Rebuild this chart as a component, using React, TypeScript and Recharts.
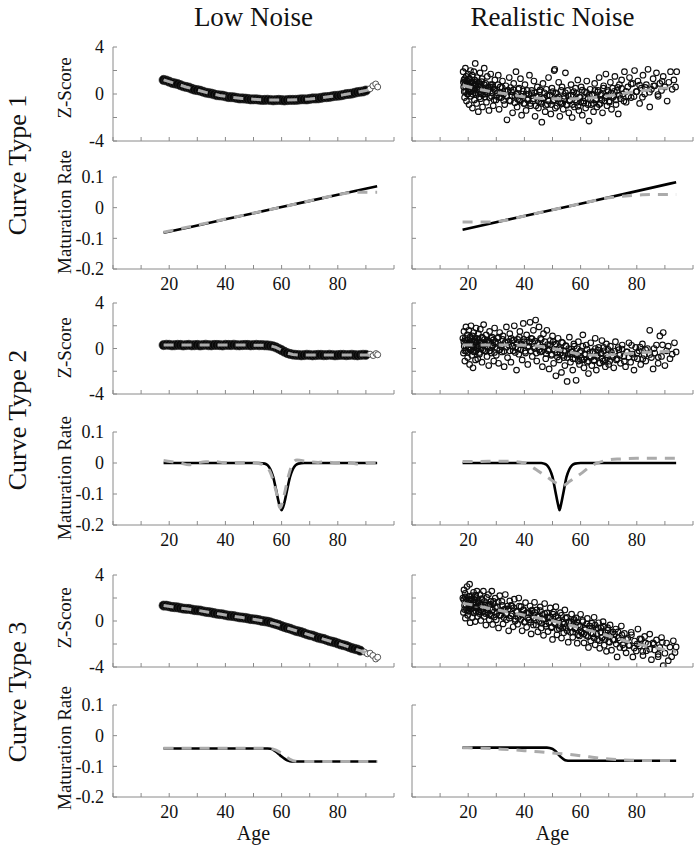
import React from "react";
import { ComposedChart, Line, Scatter, XAxis, YAxis } from "recharts";

// ---- axes ----
const AGE_TICKS = [0, 10, 20, 30, 40, 50, 60, 70, 80, 90, 100];
const AGE_LABELS = [20, 40, 60, 80];
const Z_TICKS = [-4, -2, 0, 2, 4];
const Z_LABELS = [-4, 0, 4];
const RATE_TICKS = [-0.2, -0.1, 0, 0.1];

// ---- curve type 1 ----
const z1LowPts = [
  [18, 1.2], [19, 1.15], [20, 1.05], [21, 0.95], [22, 0.9], [23, 0.85], [24, 0.75], [25, 0.66], [26, 0.6],
  [27, 0.55], [28, 0.45], [29, 0.37], [30, 0.33], [31, 0.28], [32, 0.2], [33, 0.12], [34, 0.08], [35, 0.04],
  [36, -0.03], [37, -0.1], [38, -0.12], [39, -0.14], [40, -0.2], [41, -0.26], [42, -0.27], [43, -0.28],
  [44, -0.33], [45, -0.38], [46, -0.38], [47, -0.39], [48, -0.42], [49, -0.46], [50, -0.45], [51, -0.45],
  [52, -0.48], [53, -0.51], [54, -0.5], [55, -0.49], [56, -0.51], [57, -0.54], [58, -0.52], [59, -0.5],
  [60, -0.52], [61, -0.55], [62, -0.52], [63, -0.5], [64, -0.5], [65, -0.5], [66, -0.48], [67, -0.45],
  [68, -0.45], [69, -0.46], [70, -0.42], [71, -0.38], [72, -0.38], [73, -0.37], [74, -0.33], [75, -0.28],
  [76, -0.27], [77, -0.25], [78, -0.2], [79, -0.16], [80, -0.15], [81, -0.12], [82, -0.07], [83, -0.01],
  [84, 0.01], [85, 0.04], [86, 0.1], [87, 0.16], [88, 0.19], [89, 0.22], [90, 0.3],
];
const z1LowEnd = [[91.5, 0.45], [92.5, 0.7], [93.5, 0.85], [94.2, 0.6]];
const z1LowFit = [
  [18, 1.2], [22, 0.9], [26, 0.6], [30, 0.33], [34, 0.08], [38, -0.12], [42, -0.27], [46, -0.38],
  [50, -0.45], [54, -0.5], [58, -0.52], [62, -0.52], [66, -0.48], [70, -0.42], [74, -0.33],
  [78, -0.2], [82, -0.07], [86, 0.1], [90, 0.3], [92, 0.42],
];
const z1RealPts = [
  [18.2, 1.9], [18.4, 0.6], [18.5, 1.2], [18.7, -0.3], [18.9, 0.9], [19.0, 2.2], [19.1, 0.2], [19.3, 1.5],
  [19.4, -0.6], [19.6, 0.8], [19.8, 1.1], [19.9, 0.0], [20.0, 1.7], [20.1, 0.4], [20.3, -0.9], [20.4, 1.3],
  [20.6, 0.7], [20.8, 2.0], [20.9, -0.2], [21.0, 1.0], [21.2, 0.3], [21.4, 1.6], [21.5, -1.2], [21.7, 0.9],
  [21.9, 0.5], [22.0, 1.9], [22.2, -0.5], [22.3, 1.2], [22.5, 2.6], [22.7, 0.1], [22.8, 0.8], [23.0, -0.8],
  [23.2, 1.4], [23.4, 0.4], [23.6, -1.5], [23.8, 1.0], [24.0, 0.2], [24.2, 1.8], [24.4, -0.4], [24.6, 0.7],
  [24.9, 1.3], [25.1, -1.1], [25.4, 0.5], [25.7, 2.2], [25.9, 0.0], [26.2, 0.9], [26.5, -0.7], [26.8, 1.5],
  [27.1, 0.3], [27.4, -1.4], [27.7, 0.6], [28.0, 1.7], [28.3, -0.2], [28.6, 0.8], [28.9, -1.0], [29.2, 0.4],
  [29.5, 1.2], [29.9, -0.5], [30.3, 0.1], [30.7, 1.6], [31.0, -1.3], [31.4, 0.6], [31.8, -0.3], [32.2, 1.1],
  [32.6, 0.0], [33.0, -0.9], [33.4, 0.7], [33.8, -2.2], [34.2, 0.3], [34.6, 1.4], [35.0, -0.6], [35.4, 0.2],
  [35.8, -1.6], [36.2, 0.9], [36.6, -0.2], [37.0, 1.9], [37.4, -1.1], [37.8, 0.4], [38.2, -0.5], [38.6, 1.3],
  [39.0, -1.8], [39.4, 0.0], [39.8, -0.8], [40.2, 0.8], [40.6, -1.4], [41.0, 0.3], [41.4, -0.4], [41.8, 1.6],
  [42.2, -1.0], [42.6, 0.1], [43.0, -0.6], [43.4, 1.1], [43.8, -1.9], [44.2, -0.2], [44.6, 0.6], [45.0, -1.2],
  [45.4, 0.2], [45.8, -0.7], [46.2, -2.4], [46.6, 0.9], [47.0, -0.3], [47.4, -1.5], [47.8, 0.4], [48.2, -0.9],
  [48.6, 1.4], [49.0, -0.1], [49.4, -1.7], [49.8, 0.5], [50.2, -0.6], [50.6, 2.0], [50.8, 2.1], [51.0, -1.2],
  [51.4, 0.1], [51.8, -0.4], [52.2, 1.0], [52.6, -1.9], [53.0, -0.8], [53.4, 0.6], [53.8, -1.3], [54.2, -0.2],
  [54.6, 1.8], [55.0, -0.9], [55.4, 0.3], [55.8, -1.6], [56.2, -0.5], [56.6, 0.8], [57.0, -2.0], [57.4, -0.1],
  [57.8, -1.1], [58.2, 0.5], [58.6, -0.7], [59.0, 1.2], [59.4, -1.4], [59.8, -0.3], [60.2, 0.6], [60.6, -1.8],
  [61.0, -0.6], [61.4, 0.2], [61.8, -1.2], [62.2, 1.1], [62.6, -0.4], [63.0, -2.3], [63.4, 0.4], [63.8, -0.9],
  [64.2, -0.1], [64.6, -1.5], [65.0, 0.9], [65.4, -0.5], [65.8, -1.1], [66.2, 0.3], [66.6, 1.4], [67.0, -0.8],
  [67.4, 0.0], [67.8, -1.6], [68.2, 0.7], [68.6, -0.3], [69.0, 1.7], [69.4, -1.0], [69.8, 0.2], [70.2, -0.6],
  [70.6, 1.0], [71.0, -1.3], [71.4, 0.5], [71.8, -0.2], [72.2, 1.5], [72.6, -0.9], [73.0, 0.3], [73.4, -1.7],
  [73.8, 0.8], [74.2, -0.4], [74.6, 1.2], [75.0, 0.0], [75.6, 1.9], [76.2, -0.7], [76.8, 0.6], [77.4, 1.4],
  [78.0, -0.3], [78.6, 0.9], [79.2, 2.0], [79.8, 0.2], [80.4, 1.1], [81.0, -0.8], [81.6, 0.5], [82.2, 1.6],
  [82.8, 0.0], [83.4, 0.8], [84.0, 2.1], [84.6, -1.1], [85.2, 0.4], [85.8, 1.3], [86.4, 0.7], [87.0, 1.8],
  [87.6, -0.2], [88.2, 0.9], [88.8, 0.3], [89.4, 1.5], [90.0, 0.6], [90.8, -0.6], [91.4, 1.0], [92.0, 1.9],
  [92.6, 0.4], [93.2, 1.2], [93.8, 0.6], [94.2, 1.9],
];
const z1RealCore = [
  [18.3, 1.0], [18.6, 0.2], [18.8, 1.3], [19.1, 0.6], [19.4, 1.1], [19.7, 0.0], [20.0, 0.8], [20.2, 0.3],
  [20.5, 1.3], [20.8, 0.2], [21.0, 0.55], [21.3, 1.05], [21.6, 0.0], [21.9, 0.75], [22.1, 0.3], [22.4, 0.8],
  [22.7, -0.05], [23.0, 1.05], [23.3, 0.35], [23.6, 0.85], [23.9, -0.25], [24.2, 0.55], [24.5, 0.05], [24.8, 1.05],
  [25.1, -0.05], [25.4, 0.3], [25.7, 0.8], [26.0, -0.25], [26.4, 0.55], [26.8, 0.05], [27.2, 0.55], [27.6, -0.3],
  [28.0, 0.8], [28.4, 0.1], [28.8, 0.6], [29.2, -0.5], [29.6, 0.3], [30.1, -0.2], [30.6, 0.8], [31.1, -0.3],
  [31.6, 0.05], [32.1, 0.55], [32.6, -0.55], [33.1, 0.25], [33.6, -0.2], [34.1, 0.3], [34.6, -0.55], [35.1, 0.55],
  [35.6, -0.15], [36.1, 0.35], [36.6, -0.75], [37.1, 0.0], [37.6, -0.45], [38.1, 0.5], [38.6, -0.6], [39.1, -0.2],
  [39.6, 0.25], [40.1, -0.8], [40.6, 0.0], [41.1, -0.5], [41.6, 0.0], [42.1, -0.8], [42.6, 0.3], [43.1, -0.4],
  [43.6, 0.1], [44.1, -1.0], [44.6, -0.2], [45.1, -0.65], [45.6, 0.35], [46.1, -0.8], [46.6, -0.4], [47.1, 0.1],
  [47.6, -0.95], [48.1, -0.15], [48.6, -0.6], [49.1, -0.1], [49.6, -0.9], [50.1, 0.2], [50.6, -0.5], [51.1, 0.05],
  [51.6, -1.05], [52.1, -0.25], [52.6, -0.7], [53.1, 0.3], [53.6, -0.8], [54.1, -0.4], [54.6, 0.1], [55.1, -0.95],
  [55.6, -0.15], [56.1, -0.6], [56.6, -0.1], [57.1, -0.9], [57.6, 0.2], [58.1, -0.5], [58.6, 0.05], [59.1, -1.05],
  [59.6, -0.25], [60.1, -0.68], [60.6, 0.32], [61.1, -0.77], [61.6, -0.37], [62.1, 0.14], [62.6, -0.9], [63.1, -0.1],
  [63.6, -0.53], [64.1, -0.02], [64.6, -0.8], [65.1, 0.3], [65.6, -0.4], [66.1, 0.17], [66.6, -0.9], [67.1, -0.1],
  [67.6, -0.52], [68.1, 0.5], [68.6, -0.58], [69.1, -0.18], [69.6, 0.34], [70.2, -0.7], [70.8, 0.08], [71.4, -0.3],
  [72.0, 0.23], [72.6, -0.5], [73.2, 0.57], [73.8, -0.1], [74.6, 0.47], [75.4, -0.6], [76.2, 0.23], [77.0, -0.18],
  [78.0, 0.85], [79.0, -0.22], [80.0, 0.22], [81.0, 0.75], [82.0, -0.27], [83.0, 0.56], [84.5, 0.15], [86.0, 0.7],
  [87.5, -0.05], [89.0, 1.08],
];
const z1RealFit = [
  [18, 0.75], [22, 0.5], [26, 0.3], [30, 0.12], [34, 0.0], [38, -0.18], [42, -0.3], [46, -0.38],
  [50, -0.4], [54, -0.41], [58, -0.4], [62, -0.36], [66, -0.28], [70, -0.15], [74, 0.0], [78, 0.15],
  [82, 0.28], [86, 0.4], [90, 0.5], [94, 0.55],
];
const m1LowTrue = [[18, -0.082], [40, -0.038], [60, 0.002], [80, 0.042], [94, 0.07]];
const m1LowFit = [[18, -0.08], [40, -0.037], [60, 0.002], [80, 0.042], [84, 0.049], [88, 0.05], [94, 0.05]];
const m1RealTrue = [[18, -0.072], [40, -0.027], [60, 0.013], [80, 0.054], [94, 0.083]];
const m1RealFit = [
  [18, -0.047], [28, -0.047], [32, -0.043], [40, -0.027], [50, -0.007], [60, 0.013], [70, 0.032],
  [76, 0.038], [82, 0.042], [88, 0.043], [94, 0.043],
];

// ---- curve type 2 ----
const z2LowPts = [
  [18, 0.3], [19, 0.33], [20, 0.32], [21, 0.28], [22, 0.29], [23, 0.32], [24, 0.31], [25, 0.27], [26, 0.3],
  [27, 0.32], [28, 0.28], [29, 0.29], [30, 0.31], [31, 0.27], [32, 0.3], [33, 0.33], [34, 0.29], [35, 0.28],
  [36, 0.31], [37, 0.31], [38, 0.3], [39, 0.27], [40, 0.32], [41, 0.31], [42, 0.3], [43, 0.33], [44, 0.29],
  [45, 0.28], [46, 0.3], [47, 0.31], [48, 0.31], [49, 0.28], [50, 0.3], [51, 0.32], [52, 0.29], [53, 0.3],
  [54, 0.28], [55, 0.27], [56, 0.24], [57, 0.19], [58, 0.1], [59, -0.02], [60, -0.15], [61, -0.28], [62, -0.4],
  [63, -0.48], [64, -0.53], [65, -0.56], [66, -0.57], [67, -0.6], [68, -0.58], [69, -0.55], [70, -0.57],
  [71, -0.6], [72, -0.58], [73, -0.56], [74, -0.56], [75, -0.59], [76, -0.58], [77, -0.55], [78, -0.57],
  [79, -0.6], [80, -0.58], [81, -0.56], [82, -0.56], [83, -0.59], [84, -0.57], [85, -0.55], [86, -0.58],
  [87, -0.6], [88, -0.57], [89, -0.55], [90, -0.56],
];
const z2LowEnd = [[91.5, -0.5], [92.6, -0.62], [93.6, -0.45], [94.2, -0.55]];
const z2LowFit = [
  [18, 0.3], [24, 0.31], [30, 0.31], [36, 0.3], [42, 0.3], [48, 0.3], [54, 0.28], [56, 0.24],
  [58, 0.1], [60, -0.15], [62, -0.4], [64, -0.53], [66, -0.57], [70, -0.57], [78, -0.57], [86, -0.57], [92, -0.56],
];
const z2RealPts = [
  [18.1, 0.9], [18.3, -0.4], [18.5, 1.5], [18.6, 0.2], [18.8, -1.1], [19.0, 0.7], [19.2, 1.9], [19.3, -0.2],
  [19.5, 0.5], [19.7, 1.2], [19.8, -0.8], [20.0, 0.1], [20.2, 1.6], [20.3, 0.4], [20.5, -1.4], [20.7, 0.9],
  [20.8, -0.1], [21.0, 2.0], [21.2, 0.6], [21.3, -0.6], [21.5, 1.1], [21.7, -1.7], [21.9, 0.3], [22.0, 1.4],
  [22.2, -0.3], [22.4, 0.8], [22.6, -1.0], [22.8, 1.8], [23.0, 0.0], [23.2, 0.6], [23.4, -0.9], [23.6, 1.3],
  [23.8, 0.2], [24.0, -0.5], [24.3, 1.7], [24.6, 0.5], [24.9, -1.2], [25.2, 0.9], [25.5, 2.1], [25.8, -0.2],
  [26.1, 0.4], [26.4, 1.2], [26.7, -0.7], [27.0, 0.7], [27.3, -1.5], [27.6, 1.5], [27.9, 0.1], [28.2, -0.4],
  [28.5, 1.0], [28.8, 0.3], [29.1, -1.1], [29.4, 1.8], [29.7, 0.6], [30.0, -0.6], [30.4, 0.9], [30.8, -1.3],
  [31.2, 1.4], [31.6, 0.2], [32.0, -0.3], [32.4, 1.1], [32.8, -1.6], [33.2, 0.5], [33.6, 1.9], [34.0, -0.8],
  [34.4, 0.3], [34.8, 1.3], [35.2, -1.2], [35.6, 0.7], [36.0, -0.2], [36.4, 2.0], [36.8, 0.1], [37.2, -1.9],
  [37.6, 0.8], [38.0, -0.5], [38.4, 1.5], [38.8, 0.4], [39.2, -1.0], [39.6, 2.2], [40.0, 0.6], [40.4, -0.4],
  [40.8, 1.2], [41.2, -1.4], [41.6, 0.2], [42.0, 2.3], [42.4, 0.9], [42.8, -0.7], [43.2, 1.6], [43.6, 0.0],
  [44.0, 2.5], [44.4, -1.1], [44.8, 0.5], [45.2, 1.9], [45.6, -0.3], [46.0, 0.8], [46.4, -1.6], [46.8, 1.3],
  [47.2, 0.1], [47.6, -0.9], [48.0, 1.6], [48.4, -0.2], [48.8, -1.8], [49.2, 0.7], [49.6, -0.6], [50.0, 1.1],
  [50.4, -1.3], [50.8, 0.3], [51.2, -2.4], [51.6, -0.4], [52.0, 0.9], [52.4, -1.0], [52.8, -0.1], [53.2, -2.1],
  [53.6, 0.5], [54.0, -0.8], [54.4, -1.5], [54.8, 0.2], [55.2, -2.9], [55.6, -0.5], [56.0, 1.0], [56.4, -1.2],
  [56.8, -0.3], [57.2, -1.9], [57.6, 0.4], [58.0, -0.9], [58.4, -2.8], [58.8, -0.6], [59.2, 0.6], [59.6, -1.4],
  [60.0, -0.2], [60.4, -1.0], [60.8, 1.2], [61.2, -1.7], [61.6, -0.5], [62.0, 0.3], [62.4, -1.2], [62.8, -2.2],
  [63.2, -0.7], [63.6, 0.5], [64.0, -1.5], [64.4, -0.3], [64.8, -1.0], [65.2, 0.9], [65.6, -1.9], [66.0, -0.6],
  [66.4, 0.1], [66.8, -1.3], [67.2, -0.4], [67.6, 0.7], [68.0, -1.1], [68.4, -0.2], [68.8, -1.6], [69.2, 0.4],
  [69.6, -0.8], [70.0, -1.4], [70.6, 0.2], [71.2, -0.6], [71.8, -1.7], [72.4, 0.6], [73.0, -0.9], [73.6, -0.1],
  [74.2, -1.3], [74.8, 0.3], [75.4, -0.7], [76.0, -1.6], [76.6, -0.3], [77.2, 0.5], [77.8, -1.2], [78.4, -0.5],
  [79.0, -1.9], [79.6, 0.1], [80.2, -0.9], [80.8, -0.2], [81.4, -1.4], [82.0, 0.4], [82.6, -0.6], [83.2, -1.1],
  [83.8, 0.0], [84.6, 1.6], [85.2, -0.8], [85.8, -1.8], [86.4, -0.4], [87.0, 0.3], [87.6, -1.3], [88.2, 1.1],
  [88.8, -0.7], [89.4, 1.4], [90.0, -1.5], [90.6, -0.2], [91.2, 0.2], [91.8, -0.9], [92.6, -0.5], [93.4, 0.5],
  [94.0, -0.3],
];
const z2RealCore = [
  [18.45, 0.6], [18.75, -0.2], [18.95, 0.9], [19.25, 0.2], [19.55, 0.75], [19.85, -0.35], [20.15, 0.45], [20.35, 0.0],
  [20.65, 1.0], [20.95, -0.1], [21.15, 0.3], [21.45, 0.8], [21.75, -0.25], [22.05, 0.55], [22.25, 0.1], [22.55, 0.6],
  [22.85, -0.2], [23.15, 0.9], [23.45, 0.2], [23.75, 0.75], [24.05, -0.35], [24.35, 0.45], [24.65, 0.0], [24.95, 1.0],
  [25.25, -0.1], [25.55, 0.3], [25.85, 0.8], [26.15, -0.25], [26.55, 0.55], [26.95, 0.1], [27.35, 0.6], [27.75, -0.2],
  [28.15, 0.9], [28.55, 0.2], [28.95, 0.75], [29.35, -0.35], [29.75, 0.45], [30.25, 0.0], [30.75, 1.0], [31.25, -0.1],
  [31.75, 0.3], [32.25, 0.8], [32.75, -0.25], [33.25, 0.55], [33.75, 0.1], [34.25, 0.6], [34.75, -0.2], [35.25, 0.9],
  [35.75, 0.2], [36.25, 0.75], [36.75, -0.35], [37.25, 0.45], [37.75, 0.0], [38.25, 1.0], [38.75, -0.1], [39.25, 0.3],
  [39.75, 0.8], [40.25, -0.25], [40.75, 0.55], [41.25, 0.1], [41.75, 0.6], [42.25, -0.2], [42.75, 0.85], [43.25, 0.15],
  [43.75, 0.65], [44.25, -0.4], [44.75, 0.35], [45.25, -0.1], [45.75, 0.9], [46.25, -0.25], [46.75, 0.15], [47.25, 0.6],
  [47.75, -0.45], [48.25, 0.35], [48.75, -0.1], [49.25, 0.35], [49.75, -0.5], [50.25, 0.6], [50.75, -0.15], [51.25, 0.4],
  [51.75, -0.75], [52.25, 0.0], [52.75, -0.45], [53.25, 0.55], [53.75, -0.6], [54.25, -0.22], [54.75, 0.25], [55.25, -0.8],
  [55.75, 0.0], [56.25, -0.5], [56.75, -0.05], [57.25, -0.9], [57.75, 0.2], [58.25, -0.55], [58.75, 0.0], [59.25, -1.1],
  [59.75, -0.35], [60.25, -0.8], [60.75, 0.2], [61.25, -0.95], [61.75, -0.55], [62.25, -0.05], [62.75, -1.1], [63.25, -0.33],
  [63.75, -0.77], [64.25, -0.28], [64.75, -1.08], [65.25, 0.0], [65.75, -0.7], [66.25, -0.15], [66.75, -1.25], [67.25, -0.45],
  [67.75, -0.9], [68.25, 0.1], [68.75, -1.0], [69.25, -0.58], [69.75, -0.08], [70.35, -1.12], [70.95, -0.32], [71.55, -0.75],
  [72.15, -0.25], [72.75, -1.0], [73.35, 0.08], [73.95, -0.6], [74.75, -0.05], [75.55, -1.12], [76.35, -0.3], [77.15, -0.75],
  [78.15, 0.28], [79.15, -0.8], [80.15, -0.39], [81.15, 0.13], [82.15, -0.9], [83.15, -0.1], [84.65, -0.52], [86.15, 0.0],
  [87.65, -0.78], [89.15, 0.32],
];
const z2RealFit = [
  [18, 0.3], [24, 0.3], [30, 0.32], [36, 0.3], [42, 0.28], [46, 0.18], [50, 0.0], [54, -0.2], [58, -0.42],
  [62, -0.56], [66, -0.6], [70, -0.58], [74, -0.5], [78, -0.42], [82, -0.36], [86, -0.3], [90, -0.27], [94, -0.25],
];
const m2LowTrue = [
  [18, 0], [30, 0], [40, 0], [52, 0], [54, -0.002], [55, -0.007], [56, -0.02], [57, -0.045], [58, -0.085],
  [59, -0.128], [60, -0.152], [61, -0.128], [62, -0.085], [63, -0.045], [64, -0.02], [65, -0.007],
  [66, -0.002], [68, 0], [80, 0], [94, 0],
];
const m2LowFit = [
  [18, 0.008], [21, 0.004], [24, 0.0], [27, -0.006], [30, 0.0], [33, 0.004], [36, 0.004], [39, 0.002],
  [42, 0.0], [45, 0.002], [48, 0.002], [51, 0.0], [54, -0.008], [56, -0.03], [58, -0.09], [59.5, -0.145],
  [61, -0.1], [62.5, -0.04], [64, 0.0], [65.5, 0.01], [67, 0.008], [70, 0.004], [73, 0.002], [76, 0.004],
  [79, 0.0], [82, 0.002], [85, 0.0], [88, -0.005], [91, 0.0], [94, 0.0],
];
const m2RealTrue = [
  [18, 0], [30, 0], [40, 0], [46, 0], [47, -0.002], [48, -0.007], [49, -0.02], [50, -0.045], [51, -0.09],
  [52, -0.135], [52.5, -0.152], [53, -0.135], [54, -0.09], [55, -0.045], [56, -0.02], [57, -0.007],
  [58, -0.002], [60, 0], [75, 0], [94, 0],
];
const m2RealFit = [
  [18, 0.005], [24, 0.005], [30, 0.006], [36, 0.005], [40, 0.0], [44, -0.02], [48, -0.045], [52, -0.068],
  [54, -0.072], [56, -0.06], [60, -0.035], [64, -0.008], [66, 0.0], [70, 0.01], [74, 0.013], [80, 0.015],
  [86, 0.015], [94, 0.015],
];

// ---- curve type 3 ----
const z3LowPts = [
  [18, 1.34], [19, 1.33], [20, 1.28], [21, 1.22], [22, 1.2], [23, 1.18], [24, 1.13], [25, 1.08], [26, 1.06],
  [27, 1.05], [28, 1.0], [29, 0.95], [30, 0.93], [31, 0.91], [32, 0.85], [33, 0.8], [34, 0.77], [35, 0.74],
  [36, 0.68], [37, 0.63], [38, 0.6], [39, 0.58], [40, 0.52], [41, 0.47], [42, 0.45], [43, 0.42], [44, 0.37],
  [45, 0.32], [46, 0.3], [47, 0.27], [48, 0.22], [49, 0.17], [50, 0.15], [51, 0.12], [52, 0.07], [53, 0.01],
  [54, -0.02], [55, -0.06], [56, -0.12], [57, -0.2], [58, -0.27], [59, -0.34], [60, -0.44], [61, -0.53],
  [62, -0.6], [63, -0.67], [64, -0.76], [65, -0.85], [66, -0.91], [67, -0.97], [68, -1.06], [69, -1.15],
  [70, -1.22], [71, -1.27], [72, -1.36], [73, -1.45], [74, -1.51], [75, -1.56], [76, -1.65], [77, -1.74],
  [78, -1.8], [79, -1.86], [80, -1.95], [81, -2.04], [82, -2.1], [83, -2.16], [84, -2.26], [85, -2.35],
  [86, -2.42], [87, -2.48], [88, -2.58],
];
const z3LowEnd = [[89.5, -2.7], [90.5, -2.85], [91.5, -2.8], [92.5, -3.0], [93.5, -3.3], [94.2, -3.15]];
const z3LowFit = [
  [18, 1.34], [22, 1.2], [26, 1.06], [30, 0.93], [34, 0.77], [38, 0.6], [42, 0.45], [46, 0.3], [50, 0.15],
  [54, -0.02], [58, -0.27], [62, -0.6], [66, -0.91], [70, -1.22], [74, -1.51], [78, -1.8], [82, -2.1],
  [86, -2.42], [90, -2.75],
];
const z3RealPts = [
  [18.1, 2.0], [18.3, 0.75], [18.5, 2.7], [18.7, 1.35], [18.9, 2.4], [19.0, 0.25], [19.2, 1.8], [19.4, 1.0],
  [19.6, 3.0], [19.8, 0.5], [20.0, 1.55], [20.2, 2.15], [20.4, 0.85], [20.5, 3.2], [20.7, -0.15], [20.9, 1.85],
  [21.1, 1.1], [21.3, 2.2], [21.5, 0.3], [21.7, 1.6], [21.9, 2.5], [22.1, 0.7], [22.3, 1.85], [22.5, -0.05],
  [22.7, 2.25], [22.9, 1.15], [23.1, 2.6], [23.3, 0.4], [23.6, 1.6], [23.9, 0.8], [24.2, 2.3], [24.5, 0.05],
  [24.8, 1.85], [25.1, 1.1], [25.4, 2.6], [25.7, 0.4], [26.0, 1.4], [26.3, -0.35], [26.6, 2.05], [26.9, 0.7],
  [27.2, 2.3], [27.5, 0.1], [27.8, 1.45], [28.1, 0.45], [28.4, 2.6], [28.7, -0.3], [29.0, 1.7], [29.3, 0.8],
  [29.6, 1.98], [30.0, 0.1], [30.4, 1.25], [30.8, -0.6], [31.2, 2.2], [31.6, 0.5], [32.0, 1.7], [32.4, -0.25],
  [32.8, 1.0], [33.2, 2.3], [33.6, 0.1], [34.0, 1.3], [34.4, -0.85], [34.8, 1.75], [35.2, 0.45], [35.6, 1.3],
  [36.0, -0.5], [36.4, 1.9], [36.8, 0.15], [37.2, 0.85], [37.6, -0.28], [38.0, 2.0], [38.4, 0.48], [38.8, 1.25],
  [39.2, -0.85], [39.6, 0.92], [40.0, -0.1], [40.4, 1.6], [40.8, -0.55], [41.2, 0.72], [41.6, 0.1], [42.0, 1.3],
  [42.4, -1.12], [42.8, 0.86], [43.2, -0.34], [43.6, 1.63], [44.0, 0.1], [44.4, 0.96], [44.8, -0.94], [45.2, 0.34],
  [45.6, 1.22], [46.0, -0.6], [46.4, 0.56], [46.8, -1.24], [47.2, 1.52], [47.6, -0.26], [48.0, 0.7], [48.4, -0.92],
  [48.8, 0.26], [49.2, 1.14], [49.6, -0.58], [50.0, -1.6], [50.4, 0.78], [50.8, -0.24], [51.2, 1.24], [51.6, -1.2],
  [52.0, 0.29], [52.4, -0.66], [52.8, 0.72], [53.2, -1.48], [53.6, -0.1], [54.0, -1.02], [54.4, 0.96], [54.8, -0.57],
  [55.2, 0.31], [55.6, -1.84], [56.0, -0.05], [56.4, -0.98], [56.8, 0.6], [57.2, -1.42], [57.6, 0.05], [58.0, -0.68],
  [58.4, 0.27], [58.8, -1.93], [59.2, -0.35], [59.6, -1.3], [60.0, 0.58], [60.4, -1.05], [60.8, -0.07], [61.2, -1.9],
  [61.6, -0.62], [62.0, -1.25], [62.4, 0.22], [62.8, -2.3], [63.2, -0.43], [63.6, -1.73], [64.0, -0.19], [64.4, -1.12],
  [64.8, 0.32], [65.2, -2.07], [65.6, -0.69], [66.0, -1.62], [66.4, -0.16], [66.8, -2.37], [67.2, -0.6], [67.6, -1.44],
  [68.0, -0.06], [68.4, -2.1], [68.8, -1.02], [69.2, -2.64], [69.6, -0.58], [70.0, -1.8], [70.5, -0.34], [71.0, -2.54],
  [71.5, -0.95], [72.0, -1.65], [72.5, -0.7], [73.0, -3.12], [73.5, -1.45], [74.0, -2.3], [74.5, -0.44], [75.0, -2.07],
  [75.6, -1.08], [76.2, -2.77], [76.8, -1.5], [77.4, -2.13], [78.0, -0.98], [78.6, -3.12], [79.2, -1.74], [79.8, -2.6],
  [80.4, -0.7], [81.0, -2.15], [81.6, -1.58], [82.2, -3.0], [82.8, -1.34], [83.4, -2.58], [84.0, -2.0], [84.6, -1.14],
  [85.2, -3.36], [85.8, -1.9], [86.4, -2.52], [87.0, -1.65], [87.6, -3.1], [88.2, -2.31], [88.8, -1.44], [89.4, -3.88],
  [90.0, -2.8], [90.6, -1.92], [91.2, -3.45], [91.8, -2.27], [92.4, -3.1], [93.0, -1.72], [93.6, -2.74], [94.0, -2.25],
];
const z3RealCore = [
  [18.4, 1.85], [18.7, 1.0], [18.9, 2.1], [19.2, 1.4], [19.5, 1.95], [19.8, 0.85], [20.1, 1.6], [20.3, 1.15],
  [20.6, 2.15], [20.9, 1.05], [21.1, 1.4], [21.4, 1.9], [21.7, 0.85], [22.0, 1.65], [22.2, 1.15], [22.5, 1.65],
  [22.8, 0.85], [23.1, 1.95], [23.4, 1.2], [23.7, 1.75], [24.0, 0.65], [24.3, 1.4], [24.6, 0.95], [24.9, 1.95],
  [25.2, 0.8], [25.5, 1.2], [25.8, 1.7], [26.1, 0.65], [26.5, 1.4], [26.9, 0.95], [27.3, 1.4], [27.7, 0.6],
  [28.1, 1.7], [28.5, 0.95], [28.9, 1.5], [29.3, 0.35], [29.7, 1.15], [30.2, 0.65], [30.7, 1.65], [31.2, 0.5],
  [31.7, 0.9], [32.2, 1.35], [32.7, 0.3], [33.2, 1.05], [33.7, 0.6], [34.2, 1.05], [34.7, 0.25], [35.2, 1.35],
  [35.7, 0.6], [36.2, 1.15], [36.7, 0.0], [37.2, 0.8], [37.7, 0.3], [38.2, 1.3], [38.7, 0.15], [39.2, 0.55],
  [39.7, 1.0], [40.2, -0.05], [40.7, 0.7], [41.2, 0.25], [41.7, 0.7], [42.2, -0.1], [42.7, 0.95], [43.2, 0.25],
  [43.7, 0.75], [44.2, -0.35], [44.7, 0.4], [45.2, -0.05], [45.7, 0.9], [46.2, -0.2], [46.7, 0.15], [47.2, 0.65],
  [47.7, -0.45], [48.2, 0.35], [48.7, -0.15], [49.2, 0.35], [49.7, -0.5], [50.2, 0.6], [50.7, -0.15], [51.2, 0.4],
  [51.7, -0.75], [52.2, 0.05], [52.7, -0.45], [53.2, 0.5], [53.7, -0.6], [54.2, -0.25], [54.7, 0.25], [55.2, -0.85],
  [55.7, -0.1], [56.2, -0.55], [56.7, -0.1], [57.2, -0.95], [57.7, 0.15], [58.2, -0.6], [58.7, -0.1], [59.2, -1.2],
  [59.7, -0.45], [60.2, -0.95], [60.7, 0.05], [61.2, -1.1], [61.7, -0.75], [62.2, -0.25], [62.7, -1.35], [63.2, -0.6],
  [63.7, -1.05], [64.2, -0.6], [64.7, -1.45], [65.2, -0.35], [65.7, -1.1], [66.2, -0.6], [66.7, -1.7], [67.2, -0.95],
  [67.7, -1.45], [68.2, -0.45], [68.7, -1.6], [69.2, -1.25], [69.7, -0.8], [70.3, -1.85], [70.9, -1.1], [71.5, -1.6],
  [72.1, -1.15], [72.7, -2.0], [73.3, -0.95], [73.9, -1.7], [74.7, -1.2], [75.5, -2.35], [76.3, -1.6], [77.1, -2.1],
  [78.1, -1.2], [79.1, -2.35], [80.1, -2.0], [81.1, -1.55], [82.1, -2.65], [83.1, -1.9], [84.6, -2.45], [86.1, -2.0],
  [87.6, -2.9], [89.1, -1.85],
];
const z3RealFit = [
  [18, 1.55], [22, 1.38], [26, 1.18], [30, 0.98], [34, 0.78], [38, 0.6], [42, 0.4], [46, 0.2], [50, 0.0],
  [54, -0.22], [58, -0.48], [62, -0.75], [66, -1.02], [70, -1.3], [74, -1.6], [78, -1.88], [82, -2.1],
  [86, -2.3], [90, -2.5], [94, -2.65],
];
const m3LowTrue = [
  [18, -0.042], [40, -0.042], [55, -0.042], [56, -0.043], [57, -0.046], [58, -0.052], [59, -0.06], [60, -0.068],
  [61, -0.075], [62, -0.08], [63, -0.083], [64, -0.084], [80, -0.084], [94, -0.084],
];
const m3LowFit = [
  [18, -0.041], [40, -0.041], [55, -0.041], [57, -0.044], [59, -0.052], [61, -0.065], [63, -0.077], [65, -0.083],
  [67, -0.084], [80, -0.084], [94, -0.084],
];
const m3RealTrue = [
  [18, -0.039], [35, -0.039], [48, -0.039], [49, -0.04], [50, -0.043], [51, -0.05], [52, -0.06], [53, -0.07],
  [54, -0.077], [55, -0.081], [56, -0.082], [75, -0.082], [94, -0.082],
];
const m3RealFit = [
  [18, -0.039], [25, -0.041], [32, -0.044], [40, -0.049], [48, -0.055], [52, -0.058], [56, -0.061], [63, -0.069],
  [70, -0.076], [78, -0.08], [86, -0.081], [94, -0.081],
];

const AXIS = "#8a8a8a";
const FIT = "#ababab";
const FONT = '"Liberation Serif", "Times New Roman", serif';

type Pt = { age: number; value: number };
const toPts = (rows: number[][]): Pt[] => rows.map(([age, value]) => ({ age, value }));

const fmt = (v: number) => String(Math.round(v * 100) / 100);

function makeYTick(labels: number[] | null) {
  return (p: any) => {
    const v = p.payload.value;
    const show = labels !== null && labels.some((l) => Math.abs(l - v) < 1e-9);
    return (
      <g>
        <line x1={p.x} y1={p.y} x2={p.x + 4} y2={p.y} stroke={AXIS} strokeWidth={1} />
        {show && (
          <text x={p.x - 9} y={p.y} dy="0.35em" textAnchor="end" fontSize={18} fontFamily={FONT} fill="#111">
            {fmt(v)}
          </text>
        )}
      </g>
    );
  };
}

function makeXTick(showLabels: boolean) {
  return (p: any) => {
    const v = p.payload.value;
    const show = showLabels && AGE_LABELS.includes(v);
    return (
      <g>
        <line x1={p.x} y1={p.y} x2={p.x} y2={p.y - 4} stroke={AXIS} strokeWidth={1} />
        {show && (
          <text x={p.x} y={p.y + 21} textAnchor="middle" fontSize={18} fontFamily={FONT} fill="#111">
            {v}
          </text>
        )}
      </g>
    );
  };
}

const openCircle = (p: any) => (
  <circle cx={p.cx} cy={p.cy} r={2.8} fill="none" stroke="#0d0d0d" strokeWidth={1.15} />
);
const denseCircle = (p: any) => (
  <circle cx={p.cx} cy={p.cy} r={4.6} fill="#080808" stroke="#333" strokeWidth={0.6} />
);
const endCircle = (p: any) => (
  <circle cx={p.cx} cy={p.cy} r={3} fill="#fff" stroke="#444" strokeWidth={0.9} />
);
const noMark = () => <g />;

interface PanelProps {
  x: [number, number];
  y: [number, number];
  kind: "z" | "rate";
  labelY: boolean;
  dense?: number[][];
  ends?: number[][];
  noisy?: number[][];
  core?: number[][];
  truth?: number[][];
  fit: number[][];
}

function Panel({ x, y, kind, labelY, dense, ends, noisy, core, truth, fit }: PanelProps) {
  const ML = 60;
  const MT = 10;
  const MR = 5;
  const XH = 30;
  const isZ = kind === "z";
  return (
    <div style={{ position: "absolute", left: x[0] - ML, top: y[0] - MT }}>
      <ComposedChart
        width={x[1] - x[0] + ML + MR}
        height={y[1] - y[0] + MT + XH}
        margin={{ top: MT, right: MR, left: 0, bottom: 0 }}
      >
        <XAxis
          type="number"
          dataKey="age"
          domain={[0, 100]}
          ticks={AGE_TICKS}
          interval={0}
          height={XH}
          tickSize={0}
          tickMargin={0}
          tickLine={false}
          axisLine={{ stroke: AXIS }}
          tick={makeXTick(!isZ)}
          allowDataOverflow
        />
        <YAxis
          type="number"
          dataKey="value"
          domain={isZ ? [-4, 4] : [-0.2, 0.1]}
          ticks={isZ ? Z_TICKS : RATE_TICKS}
          interval={0}
          width={ML}
          tickSize={0}
          tickMargin={0}
          tickLine={false}
          axisLine={{ stroke: AXIS }}
          tick={makeYTick(labelY ? (isZ ? Z_LABELS : RATE_TICKS) : null)}
          allowDataOverflow
        />
        {noisy && <Scatter data={toPts(noisy)} shape={openCircle} isAnimationActive={false} />}
        {core && <Scatter data={toPts(core)} shape={openCircle} isAnimationActive={false} />}
        {dense && <Scatter data={toPts(dense)} shape={denseCircle} isAnimationActive={false} />}
        {ends && <Scatter data={toPts(ends)} shape={endCircle} isAnimationActive={false} />}
        {truth && (
          <Line
            data={toPts(truth)}
            dataKey="value"
            type="monotone"
            stroke="#000"
            strokeWidth={2.6}
            dot={false}
            activeDot={false}
            isAnimationActive={false}
          />
        )}
        {isZ ? (
          <Scatter
            data={toPts(fit)}
            shape={noMark}
            line={{ stroke: FIT, strokeWidth: 3, strokeDasharray: "10 8", fill: "none" }}
            lineType="joint"
            isAnimationActive={false}
          />
        ) : (
          <Line
            data={toPts(fit)}
            dataKey="value"
            type="monotone"
            stroke={FIT}
            strokeWidth={3}
            strokeDasharray="10 8"
            dot={false}
            activeDot={false}
            isAnimationActive={false}
          />
        )}
      </ComposedChart>
    </div>
  );
}

const COL_L: [number, number] = [113, 394];
const COL_R: [number, number] = [412, 693];
const ROWS: { z: [number, number]; m: [number, number]; zLab: number; mLab: number; title: number }[] = [
  { z: [47, 141], m: [177, 269], zLab: 88, mLab: 212, title: 165 },
  { z: [303, 394], m: [432, 525], zLab: 348, mLab: 478, title: 420 },
  { z: [575, 667], m: [705, 797], zLab: 618, mLab: 748, title: 692 },
];

export default function App() {
  return (
    <div
      style={{
        position: "absolute",
        left: 0,
        top: 0,
        width: 698,
        height: 853,
        background: "#fff",
        fontFamily: FONT,
      }}
    >
      <Panel x={COL_L} y={ROWS[0].z} kind="z" labelY dense={z1LowPts} ends={z1LowEnd} fit={z1LowFit} />
      <Panel x={COL_R} y={ROWS[0].z} kind="z" labelY={false} noisy={z1RealPts} core={z1RealCore} fit={z1RealFit} />
      <Panel x={COL_L} y={ROWS[0].m} kind="rate" labelY truth={m1LowTrue} fit={m1LowFit} />
      <Panel x={COL_R} y={ROWS[0].m} kind="rate" labelY={false} truth={m1RealTrue} fit={m1RealFit} />

      <Panel x={COL_L} y={ROWS[1].z} kind="z" labelY dense={z2LowPts} ends={z2LowEnd} fit={z2LowFit} />
      <Panel x={COL_R} y={ROWS[1].z} kind="z" labelY={false} noisy={z2RealPts} core={z2RealCore} fit={z2RealFit} />
      <Panel x={COL_L} y={ROWS[1].m} kind="rate" labelY truth={m2LowTrue} fit={m2LowFit} />
      <Panel x={COL_R} y={ROWS[1].m} kind="rate" labelY={false} truth={m2RealTrue} fit={m2RealFit} />

      <Panel x={COL_L} y={ROWS[2].z} kind="z" labelY dense={z3LowPts} ends={z3LowEnd} fit={z3LowFit} />
      <Panel x={COL_R} y={ROWS[2].z} kind="z" labelY={false} noisy={z3RealPts} core={z3RealCore} fit={z3RealFit} />
      <Panel x={COL_L} y={ROWS[2].m} kind="rate" labelY truth={m3LowTrue} fit={m3LowFit} />
      <Panel x={COL_R} y={ROWS[2].m} kind="rate" labelY={false} truth={m3RealTrue} fit={m3RealFit} />

      <svg
        width={698}
        height={853}
        style={{ position: "absolute", left: 0, top: 0, pointerEvents: "none" }}
        fontFamily={FONT}
        fill="#111"
      >
        <text x={253.5} y={26} fontSize={27} textAnchor="middle">Low Noise</text>
        <text x={552.5} y={26} fontSize={27} textAnchor="middle">Realistic Noise</text>
        {ROWS.map((r, i) => (
          <g key={i}>
            <text x={26} y={r.title} fontSize={26} textAnchor="middle" transform={`rotate(-90 26 ${r.title})`}>
              {`Curve Type ${i + 1}`}
            </text>
            <text x={71} y={r.zLab} fontSize={19} textAnchor="middle" transform={`rotate(-90 71 ${r.zLab})`}>
              Z-Score
            </text>
            <text x={71} y={r.mLab} fontSize={19} textAnchor="middle" transform={`rotate(-90 71 ${r.mLab})`}>
              Maturation Rate
            </text>
          </g>
        ))}
        <text x={253.5} y={840} fontSize={20} textAnchor="middle">Age</text>
        <text x={552.5} y={840} fontSize={20} textAnchor="middle">Age</text>
      </svg>
    </div>
  );
}
